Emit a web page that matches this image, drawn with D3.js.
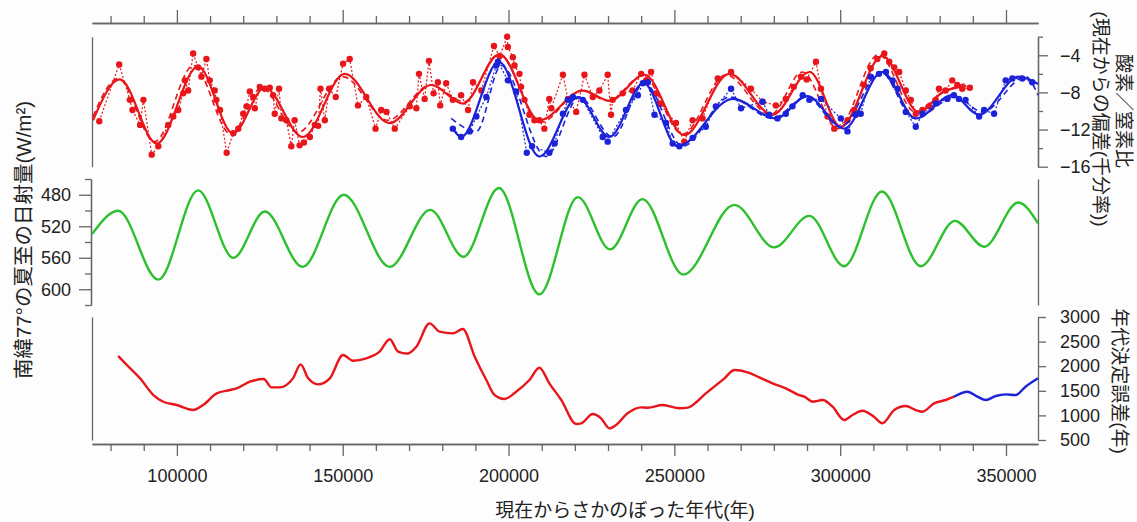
<!DOCTYPE html>
<meta charset="utf-8">
<style>
body { margin: 0; background: #fff; }
svg { background-color: #fdfdfd; display: block; }
text { font-family: "Liberation Sans", "Noto Sans CJK JP", sans-serif; fill: #222; }
.axis path, .axis line { stroke: #666; stroke-width: 1.3; }
.axis text { font-size: 18px; }
.title { font-size: 19px; }
</style>
<body>
<svg id="chart" width="1137" height="522"></svg>
<script src="https://d3js.org/d3.v7.min.js"></script>
<script>

// O2/N2 ratio, measured samples (red) [age, permil]
var redDots = [
  [76600,-11.1],[82600,-5.0],[85800,-8.8],[86600,-9.9],[88900,-11.5],[89900,-8.8],[92400,-14.7],[94400,-13.8],
  [97400,-11.5],[98900,-10.6],[100400,-9.9],[101900,-8.1],[102400,-6.7],[103400,-7.8],[104900,-3.8],[106400,-5.3],
  [107400,-6.3],[108900,-4.4],[109900,-6.7],[111400,-7.8],[111900,-8.8],[113000,-9.9],[115000,-14.5],[117000,-12.4],
  [118500,-11.9],[120000,-10.3],[121000,-9.5],[122000,-7.9],[123000,-8.5],[123500,-9.7],[125000,-7.4],[126500,-7.6],
  [128000,-7.5],[129000,-8.3],[129500,-10.3],[130800,-7.6],[131500,-10.8],[133000,-11.0],[134500,-13.8],[135500,-11.0],
  [137000,-13.7],[138300,-13.4],[140100,-12.8],[141600,-11.5],[142600,-11.6],[143300,-7.6],[144600,-11.0],[145900,-7.6],
  [147900,-8.5],[150100,-4.9],[152100,-4.4],[154600,-9.4],[157100,-8.5],[159900,-11.9],[161600,-9.9],[163200,-10.1],
  [165700,-11.9],[170200,-9.5],[172200,-9.7],[173000,-6.0],[174700,-8.7],[176000,-4.6],[177400,-8.1],[178700,-6.9],
  [179400,-9.4],[181200,-7.0],[183200,-8.8],[185700,-8.3],[187800,-9.9],[189300,-6.9],[191800,-7.8],[195600,-3.0],
  [197300,-4.1],[199600,-2.0],[199800,-3.1],[201300,-4.2],[201800,-5.1],[203300,-6.0],[203800,-7.4],[204800,-8.8],
  [206300,-10.4],[207800,-11.0],[209300,-11.0],[210800,-11.9],[212300,-8.7],[212900,-9.7],[216400,-6.1],[217900,-8.7],
  [220400,-10.1],[222900,-6.1],[225400,-8.5],[227400,-7.8],[229900,-6.1],[230900,-10.4],[231400,-8.8],[234400,-8.1],
  [237400,-7.8],[240000,-6.0],[241500,-6.7],[243000,-5.8],[244500,-8.1],[245500,-9.2],[250500,-11.3],[253000,-13.3],
  [255500,-11.0],[258500,-10.8],[263100,-6.5],[267100,-5.8],[273100,-7.6],[276600,-9.0],[280600,-9.4],[283600,-8.7],
  [286000,-7.4],[288200,-6.3],[289900,-6.6],[292700,-4.7],[294200,-7.6],[296200,-10.6],[298200,-11.9],[302200,-11.0],
  [304200,-9.9],[307200,-7.2],[309200,-5.4],[311200,-4.4],[313300,-3.8],[314800,-4.7],[316300,-5.3],[317800,-5.8],
  [319800,-7.8],[321300,-8.8],[322800,-10.3],[324800,-9.9],[326800,-9.5],[328800,-8.8],[329800,-7.6],[331800,-7.8],
  [333800,-6.7],[335300,-7.2],[336800,-7.6],[339100,-7.5]
];
// smoothed red record (solid) and tuned target (dashed)
var redFit = [
  [74700,-11.0],[82800,-6.6],[93900,-13.5],[106400,-5.2],[116900,-12.4],[126500,-7.5],[138000,-12.8],[150600,-6.0],
  [164100,-11.3],[176700,-7.2],[186200,-9.2],[197300,-3.9],[209300,-11.0],[222400,-7.8],[230500,-8.9],[241000,-6.1],
  [253000,-12.6],[266600,-6.0],[279600,-10.4],[290800,-5.8],[300200,-11.7],[312700,-4.1],[323700,-10.1],[330800,-8.0],
  [338000,-7.3]
];
var redTarget = [
  [74700,-10.6],[82300,-6.5],[93300,-13.3],[105000,-5.1],[116300,-12.5],[125500,-7.5],[136500,-12.3],[150000,-6.3],
  [163600,-11.0],[176500,-7.2],[186700,-9.0],[197000,-3.9],[209800,-11.2],[222000,-7.8],[230000,-8.9],[240500,-6.2],
  [252500,-12.5],[265500,-6.1],[279000,-10.4],[288600,-5.8],[299200,-11.9],[311600,-3.9],[322600,-10.1],[330000,-8.2],
  [338000,-7.0]
];

// O2/N2 ratio, second core (blue)
var blueDots = [
  [183200,-11.9],[185700,-12.8],[188300,-12.2],[190300,-10.6],[193300,-8.5],[196300,-5.1],[196800,-4.7],[199800,-6.7],
  [202300,-7.9],[205500,-14.5],[207100,-13.8],[212300,-14.5],[213900,-13.5],[216400,-10.3],[217900,-8.8],[219400,-8.5],
  [222400,-8.8],[228400,-12.8],[229900,-13.3],[235400,-9.9],[239000,-8.3],[240500,-7.0],[242000,-6.9],[244000,-10.4],
  [247500,-11.3],[249500,-13.5],[251500,-13.8],[255500,-12.9],[259500,-11.7],[262500,-9.5],[267100,-7.6],[270100,-9.7],
  [276600,-9.0],[278600,-10.4],[281100,-10.8],[283600,-10.3],[285600,-9.5],[288700,-8.3],[290700,-8.8],[294200,-8.7],
  [300200,-10.8],[302200,-12.2],[304700,-10.4],[306200,-10.3],[309200,-6.3],[311700,-6.0],[313800,-5.8],[315800,-6.7],
  [317300,-7.6],[319800,-10.1],[322800,-11.7],[324800,-10.3],[328800,-9.2],[332300,-8.7],[334300,-8.3],[335800,-8.7],
  [337800,-8.8],[341900,-10.6],[343400,-9.9],[346400,-10.3],[349900,-6.7],[351900,-6.5],[354900,-6.5],[357900,-6.9]
];
var blueFit = [
  [183200,-11.9],[185700,-12.8],[197100,-4.7],[209300,-14.9],[220900,-8.5],[230400,-12.8],[240700,-7.0],[251000,-13.8],
  [267600,-8.7],[280600,-10.8],[290000,-8.4],[301200,-11.9],[312700,-5.8],[322800,-10.8],[333800,-8.3],[341900,-10.4],
  [353900,-6.3],[359650,-7.1]
];
var blueTarget = [
  [182700,-10.8],[190300,-12.2],[197800,-5.1],[211300,-14.9],[221400,-8.5],[231400,-12.8],[241000,-7.0],[252500,-13.8],
  [266600,-8.5],[279600,-10.8],[289700,-8.5],[300200,-11.7],[312200,-5.8],[322300,-10.8],[334800,-8.5],[342900,-10.1],
  [355900,-6.3],[359650,-8.3]
];

// 77°S summer solstice insolation (W/m2)
var insolation = [
  [74400,530],[82300,500.4],[94400,587.8],[106400,474.5],[117000,560.1],[126500,501.3],[137900,571.6],[150300,480],
  [164200,571.6],[176400,499.2],[186400,558.8],[197100,471.4],[209300,606.5],[220900,483],[230600,549.4],[240400,485.5],
  [252700,581.4],[268100,492.8],[280100,546.8],[290700,506.8],[301200,570.7],[312600,475.8],[324300,570.7],[334600,513.2],
  [343400,546],[353700,489.8],[359650,516.2]
];

// dating uncertainty (years)
var ageErrRed = [
  [82300,2207],[84900,2024],[88900,1753],[92900,1414],[95900,1278],[99900,1211],[104900,1109],[107900,1211],
  [112000,1448],[116000,1516],[118000,1550],[122000,1685],[126200,1740],[128500,1570],[131000,1570],[135000,1753],
  [137300,2038],[139600,1753],[142600,1631],[146100,1753],[150100,2227],[153100,2112],[157100,2160],[161100,2295],
  [164200,2547],[166700,2295],[169400,2255],[172200,2396],[176200,2871],[179200,2702],[183200,2668],[186200,2756],
  [189800,2193],[193300,1719],[195800,1414],[198800,1333],[202300,1482],[206300,1719],[209300,1969],[212300,1652],
  [215900,1313],[220400,825],[221900,839],[225400,1028],[227900,941],[230400,737],[232400,804],[235900,1042],
  [240000,1164],[242000,1157],[246500,1211],[251500,1144],[254000,1157],[259500,1448],[265100,1753],[268100,1923],
  [272100,1875],[275600,1774],[279600,1652],[283600,1550],[287600,1414],[289200,1380],[291700,1278],[294700,1313],
  [297700,1177],[301200,906],[303700,1008],[306700,1095],[310200,973],[312700,839],[316300,1109],[319800,1190],
  [322800,1109],[324800,1075],[328300,1245],[331800,1313],[334300,1380]
];
var ageErrBlue = [
  [334300,1380],[338400,1481],[341400,1380],[343900,1313],[346900,1394],[349900,1428],[352900,1414],[355900,1583],
  [359650,1753]
];

var xMajor = [100000,150000,200000,250000,300000,350000];
var o2Major = [-16,-12,-8,-4], o2Minor = [-14,-10,-6,-2];
var insMajor = [480,520,560,600], insMinor = [460,500,540,580,620];
var errTicks = [500,1000,1500,2000,2500,3000];

var RED = "#e8151b", BLUE = "#1c22d8", GREEN = "#2cc12c";

var svg = d3.select("#chart");

var x = d3.scaleLinear().domain([74400, 359650]).range([92, 1038]);
var xMinor = d3.range(80000, 359650, 10000).filter(function(d) { return d % 50000 !== 0; });

var y1 = d3.scaleLinear().domain([-16, -2]).range([166.7, 36.7]);
var y2 = d3.scaleLinear().domain([460, 620]).range([179, 305]);
var y3 = d3.scaleLinear().domain([500, 3000]).range([440, 317]);

// ---- axes ----
function noLabels(g) { g.selectAll("text").remove(); }

svg.append("g").attr("class", "axis").attr("transform", "translate(0,23)")
  .call(d3.axisTop(x).tickValues(xMajor).tickSize(13).tickSizeOuter(0)).call(noLabels);
svg.append("g").attr("class", "axis").attr("transform", "translate(0,23)")
  .call(d3.axisTop(x).tickValues(xMinor).tickSize(7).tickSizeOuter(0)).call(noLabels);

svg.append("g").attr("class", "axis").attr("transform", "translate(0,444)")
  .call(d3.axisBottom(x).tickValues(xMajor).tickSize(12).tickSizeOuter(0).tickPadding(13).tickFormat(d3.format("d")));
svg.append("g").attr("class", "axis").attr("transform", "translate(0,444)")
  .call(d3.axisBottom(x).tickValues(xMinor).tickSize(7).tickSizeOuter(0)).call(noLabels);

// top panel
svg.append("g").attr("class", "axis").attr("transform", "translate(1038,0)")
  .call(d3.axisRight(y1).tickValues(o2Major).tickSize(10).tickSizeOuter(0).tickPadding(12));
svg.append("g").attr("class", "axis").attr("transform", "translate(1038,0)")
  .call(d3.axisRight(y1).tickValues(o2Minor).tickSize(5).tickSizeOuter(0)).call(noLabels);
svg.append("g").attr("class", "axis").attr("transform", "translate(92,0)")
  .call(d3.axisLeft(y1).tickValues([]).tickSizeOuter(0));

// middle panel
svg.append("g").attr("class", "axis").attr("transform", "translate(91,0)")
  .call(d3.axisLeft(y2).tickValues(insMajor).tickSize(12).tickSizeOuter(0).tickPadding(8));
svg.append("g").attr("class", "axis").attr("transform", "translate(91,0)")
  .call(d3.axisLeft(y2).tickValues(insMinor).tickSize(6).tickSizeOuter(0)).call(noLabels);
svg.append("g").attr("class", "axis").attr("transform", "translate(1038,0)")
  .call(d3.axisRight(y2).tickValues([]).tickSizeOuter(0));

// bottom panel
svg.append("g").attr("class", "axis").attr("transform", "translate(1038,0)")
  .call(d3.axisRight(y3).tickValues(errTicks).tickSize(8).tickSizeOuter(0).tickPadding(14).tickFormat(d3.format("d")));
svg.append("g").attr("class", "axis").attr("transform", "translate(92,0)")
  .call(d3.axisLeft(y3).tickValues([]).tickSizeOuter(0));

svg.selectAll(".axis text").attr("fill", "#222").style("fill", "#222");

// ---- lines ----
function line(ys, curve) {
  return d3.line().x(function(d) { return x(d[0]); }).y(function(d) { return ys(d[1]); }).curve(curve);
}
function draw(data, ys, curve, color, width, dash) {
  svg.append("path").datum(data)
    .attr("d", line(ys, curve))
    .attr("fill", "none").attr("stroke", color).attr("stroke-width", width)
    .attr("stroke-dasharray", dash || null).attr("stroke-linejoin", "round");
}
function dots(data, color) {
  svg.append("g").selectAll("circle").data(data).enter().append("circle")
    .attr("cx", function(d) { return x(d[0]); })
    .attr("cy", function(d) { return y1(d[1]); })
    .attr("r", 3.2).attr("fill", color);
}

draw(redDots, y1, d3.curveLinear, RED, 1.2, "2,2");
draw(redTarget, y1, d3.curveMonotoneX, RED, 1.6, "6,4");
draw(redFit, y1, d3.curveMonotoneX, RED, 2.2);
dots(redDots, RED);

draw(blueDots, y1, d3.curveLinear, BLUE, 1.2, "2,2");
draw(blueTarget, y1, d3.curveMonotoneX, BLUE, 1.6, "6,4");
draw(blueFit, y1, d3.curveMonotoneX, BLUE, 2.2);
dots(blueDots, BLUE);

draw(insolation, y2, d3.curveMonotoneX, GREEN, 2.4);

draw(ageErrRed, y3, d3.curveMonotoneX, RED, 2.4);
draw(ageErrBlue, y3, d3.curveMonotoneX, BLUE, 2.4);

// ---- titles ----
svg.append("text").attr("class", "title")
  .attr("x", 625).attr("y", 517).attr("text-anchor", "middle")
  .text("現在からさかのぼった年代(年)");

svg.append("text").attr("class", "title")
  .attr("transform", "translate(31,240) rotate(-90)").attr("text-anchor", "middle")
  .style("font-size", "20.5px")
  .text("南緯77°の夏至の日射量(W/m²)");

svg.append("text").attr("class", "title")
  .attr("transform", "translate(1117,111) rotate(90)").attr("text-anchor", "middle")
  .text("酸素／窒素比");
svg.append("text").attr("class", "title")
  .attr("transform", "translate(1094,119) rotate(90)").attr("text-anchor", "middle")
  .text("(現在からの偏差(千分率))");

svg.append("text").attr("class", "title")
  .attr("transform", "translate(1113,381) rotate(90)").attr("text-anchor", "middle")
  .text("年代決定誤差(年)");

</script>
</body>
